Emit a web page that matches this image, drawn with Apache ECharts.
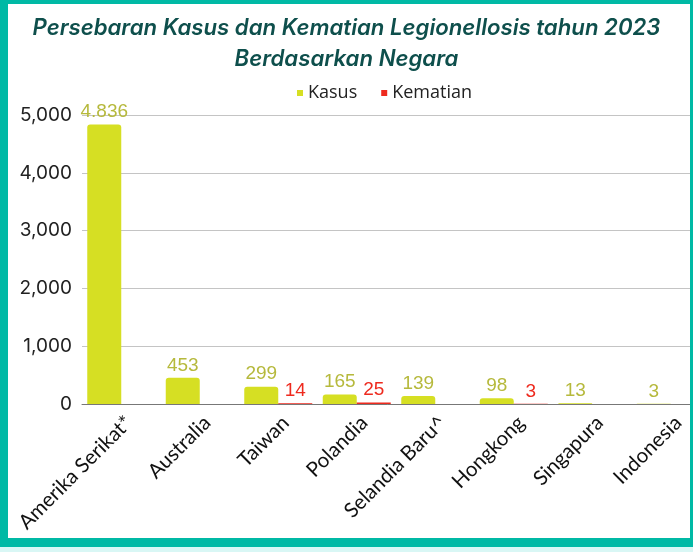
<!DOCTYPE html>
<html>
<head>
<meta charset="utf-8">
<script src="https://cdn.jsdelivr.net/npm/echarts@6/dist/echarts.min.js"></script>
<style>
  html, body { margin: 0; padding: 0; background: #ffffff; }
  #chart { width: 693px; height: 552px; }
</style>
</head>
<body>
<div id="chart"></div>
<script>
// 数据
const negara = ['Amerika Serikat*', 'Australia', 'Taiwan', 'Polandia', 'Selandia Baru^', 'Hongkong', 'Singapura', 'Indonesia']
const kasus = [4836, 453, 299, 165, 139, 98, 13, 3]
const kematian = [null, null, 14, 25, null, 3, null, null]
const yTicks = [0, 1000, 2000, 3000, 4000, 5000]

const teal = '#00b9a5'

// 千位分隔：标签用点，坐标轴用逗号
const fmt = (v, sep) => String(v).replace(/\B(?=(\d{3})+(?!\d))/g, sep)

const mChart = echarts.init(document.getElementById('chart'))

const options = {
  animation: false,
  title: {
    text: 'Persebaran Kasus dan Kematian Legionellosis tahun 2023\nBerdasarkan Negara',
    left: 'center',
    top: 8,
    textStyle: {
      fontFamily: 'Inter',
      fontStyle: 'italic',
      fontWeight: 600,
      fontSize: 22.2,
      lineHeight: 31,
      color: '#0e4f4c'
    }
  },
  legend: {
    data: ['Kasus', 'Kematian'],
    top: 79,
    left: 292,
    icon: 'rect',
    itemWidth: 6,
    itemHeight: 6,
    itemGap: 24,
    textStyle: { fontFamily: 'Open Sans', fontSize: 18, color: '#222' }
  },
  grid: {
    left: 82,
    top: 115,
    width: 628,
    height: 289,
    outerBoundsMode: 'none'
  },
  xAxis: {
    type: 'category',
    data: negara,
    axisTick: { show: false },
    axisLine: { lineStyle: { color: '#777', width: 1 } },
    axisLabel: {
      rotate: 45,
      interval: 0,
      margin: 8,
      verticalAlign: 'top',
      fontFamily: 'Lato',
      fontSize: 20.5,
      color: '#111'
    }
  },
  yAxis: {
    type: 'value',
    min: 0,
    max: yTicks[yTicks.length - 1],
    interval: 1000,
    axisLabel: {
      margin: 10,
      fontFamily: 'Inter',
      fontSize: 19,
      color: '#222',
      formatter: v => fmt(v, ',')
    },
    splitLine: { lineStyle: { color: '#c4c4c4', width: 1 } }
  },
  series: [
    {
      name: 'Kasus',
      type: 'bar',
      data: kasus,
      barWidth: 34,
      barGap: '0%',
      itemStyle: { color: '#d6df23', borderRadius: [3, 3, 0, 0] },
      label: {
        show: true,
        position: 'top',
        distance: 3,
        fontFamily: 'Liberation Sans',
        fontSize: 19,
        color: '#b6b93c',
        formatter: p => fmt(p.value, '.')
      }
    },
    {
      name: 'Kematian',
      type: 'bar',
      data: kematian,
      barWidth: 34,
      itemStyle: { color: '#ee2a1e' },
      label: {
        show: true,
        position: 'top',
        distance: 3,
        fontFamily: 'Liberation Sans',
        fontSize: 19,
        color: '#ee2a1e'
      }
    }
  ],
  // 边框
  graphic: [
    { type: 'rect', z: 100, shape: { x: 0, y: 0, width: 8, height: 552 }, style: { fill: teal } },
    { type: 'rect', z: 100, shape: { x: 0, y: 0, width: 693, height: 4 }, style: { fill: teal } },
    { type: 'rect', z: 100, shape: { x: 690, y: 0, width: 3, height: 552 }, style: { fill: teal } },
    { type: 'rect', z: 100, shape: { x: 0, y: 538, width: 693, height: 9 }, style: { fill: teal } },
    { type: 'rect', z: 100, shape: { x: 0, y: 547, width: 693, height: 5 }, style: { fill: '#d9f7f5' } }
  ]
}

mChart.setOption(options)
</script>
</body>
</html>
